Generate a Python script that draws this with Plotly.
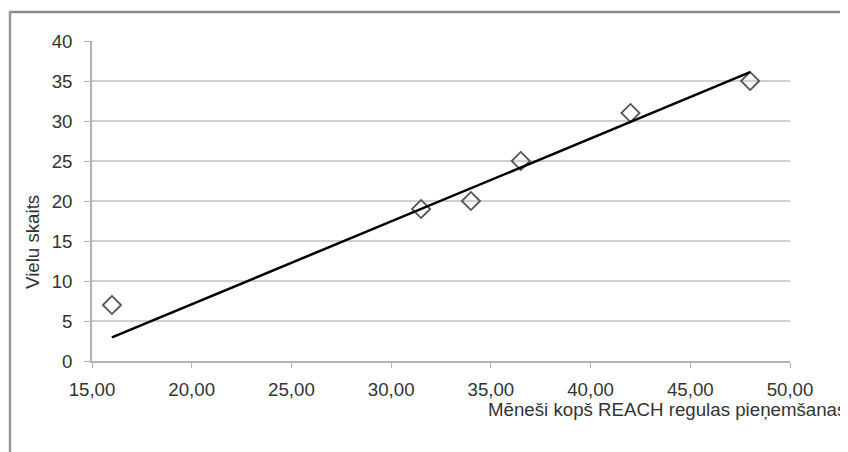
import plotly.graph_objects as go

# Data
months = [16.0, 31.5, 34.0, 36.5, 42.0, 48.0]
substances = [7, 19, 20, 25, 31, 35]
trend_x = [16.0, 48.0]
trend_y = [2.95, 36.1]

x_tickvals = [15, 20, 25, 30, 35, 40, 45, 50]
x_ticktext = ["15,00", "20,00", "25,00", "30,00", "35,00", "40,00", "45,00", "50,00"]
y_tickvals = [0, 5, 10, 15, 20, 25, 30, 35, 40]

x_title = "Mēneši kopš REACH regulas pieņemšanas"
y_title = "Vielu skaits"

# The page has an 8px body margin, so the figure is 840x444 placed at (8, 8).
OFF = 8
W, H = 840, 444
# plot area in page pixels: x 92..790, y 41..361
PL, PR, PT, PB = 92, 790, 41, 361
L, T = PL - OFF, PT - OFF
R = W - (PR - OFF)
B = H - (PB - OFF)
PW, PH = PR - PL, PB - PT

def px_x(px):
    return (px - PL) / PW

def px_y(py):
    return (PB - py) / PH

font = dict(family="Liberation Sans, Arial, sans-serif", size=18.7, color="#333333")

fig = go.Figure()
fig.add_trace(go.Scatter(
    x=months, y=substances, mode="markers",
    marker=dict(symbol="diamond-open", size=14, color="#555555", line=dict(width=1.8, color="#555555")),
    showlegend=False, hoverinfo="x+y",
))
fig.add_trace(go.Scatter(
    x=trend_x, y=trend_y, mode="lines",
    line=dict(color="black", width=2.5),
    showlegend=False, hoverinfo="skip",
))

fig.update_layout(
    width=W, height=H,
    margin=dict(l=L, r=R, t=T, b=B, pad=0),
    paper_bgcolor="white", plot_bgcolor="white",
    font=font,
    xaxis=dict(
        range=[15, 50], tickvals=x_tickvals, ticktext=x_ticktext,
        showgrid=False, zeroline=False,
        showline=True, linecolor="#b3b3b3", linewidth=1.5,
        ticks="outside", ticklen=5, tickcolor="#b3b3b3",
        ticklabelstandoff=6,
        tickfont=font,
    ),
    yaxis=dict(
        range=[0, 40], tickvals=y_tickvals,
        showgrid=True, gridcolor="#d0d0d0", gridwidth=1.8,
        zeroline=False,
        showline=True, linecolor="#b3b3b3", linewidth=1.5,
        ticks="outside", ticklen=6, tickcolor="#b3b3b3",
        ticklabelstandoff=8,
        tickfont=font,
    ),
    annotations=[
        dict(text=x_title, xref="paper", yref="paper",
             x=px_x(848), y=px_y(409), xanchor="right", yanchor="middle",
             showarrow=False, font=font),
        dict(text=y_title, xref="paper", yref="paper",
             x=px_x(32), y=px_y(242), xanchor="center", yanchor="middle",
             textangle=-90, showarrow=False, font=font),
    ],
    shapes=[
        dict(type="line", xref="paper", yref="paper",
             x0=px_x(9), x1=px_x(900), y0=px_y(12), y1=px_y(12),
             line=dict(color="#8c8c8c", width=2.5)),
        dict(type="line", xref="paper", yref="paper",
             x0=px_x(10), x1=px_x(10), y0=px_y(11), y1=px_y(500),
             line=dict(color="#999999", width=2.5)),
    ],
)

fig.write_html("out.html")
